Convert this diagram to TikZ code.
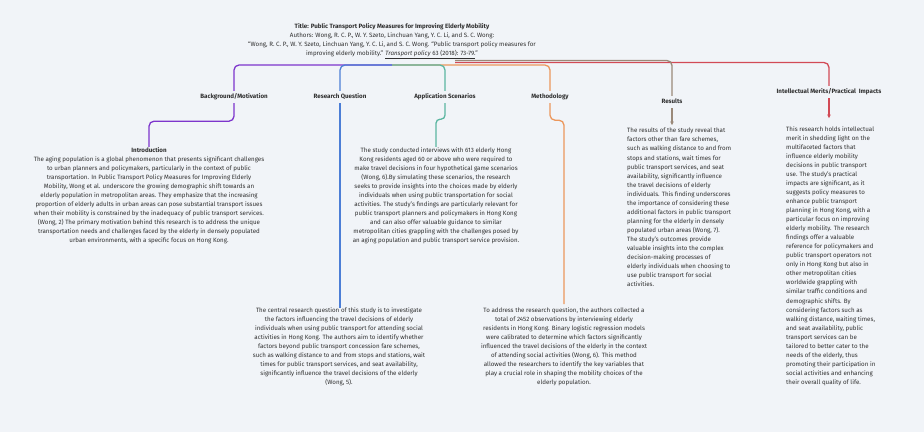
\documentclass[tikz,border=0pt]{standalone}
\usepackage{fontspec}
\setmainfont{Fira Sans}
\usetikzlibrary{arrows.meta}
\definecolor{bgc}{HTML}{F1F4F8}
\definecolor{txtc}{HTML}{303030}
\definecolor{cPurple}{HTML}{7D35CC}
\definecolor{cBlue}{HTML}{4C7ED6}
\definecolor{cGreen}{HTML}{5BB6A1}
\definecolor{cOrange}{HTML}{EC975C}
\definecolor{cBrown}{HTML}{9A8979}
\definecolor{cRed}{HTML}{D24A56}
\begin{document}
\begin{tikzpicture}[x=1pt,y=-1pt,
  lbl/.style={font=\fontsize{6.2}{9}\selectfont\bfseries,text=txtc,inner sep=3pt,text height=4.6pt,text depth=1.4pt},
  txt/.style={font=\fontsize{6.2}{9.05}\selectfont,text=txtc,inner sep=0pt},
  link/.style={line width=1.3pt,rounded corners=5pt},
  tip/.style={-{Stealth[length=3.5pt,width=3.5pt]}}]
\fill[bgc] (0,0) rectangle (924,432);

% title block
\draw (392,41.5) node[txt,align=center] (Root) {\textbf{Title: Public Transport Policy Measures for Improving Elderly Mobility}\\
Authors: Wong, R. C. P., W. Y. Szeto, Linchuan Yang, Y. C. Li, and S. C. Wong:\\
“Wong, R. C. P., W. Y. Szeto, Linchuan Yang, Y. C. Li, and S. C. Wong. “Public transport policy measures for\\
improving elderly mobility.” \underline{\textit{Transport policy} 63 (2018): 73-79.}”};
\coordinate (Hub) at (392,65);
\coordinate (HubR) at (455,60.5);

% branch labels
\draw (234,97) node[lbl] (Bg) {Background/Motivation};
\draw (340,97) node[lbl] (RQ) {Research Question};
\draw (445,97) node[lbl] (App) {Application Scenarios};
\draw (550,97) node[lbl] (Meth) {Methodology};
\draw (672,102) node[lbl] (Res) {Results};
\draw (829,92) node[lbl] (Imp) {Intellectual Merits/Practical~ Impacts};

% text blocks
\draw (149,195.5) node[txt,align=center] (Intro) {\textbf{Introduction}\\
The aging population is a global phenomenon that presents significant challenges\\
to urban planners and policymakers, particularly in the context of public\\
transportation. In Public Transport Policy Measures for Improving Elderly\\
Mobility, Wong et al. underscore the growing demographic shift towards an\\
elderly population in metropolitan areas. They emphasize that the increasing\\
proportion of elderly adults in urban areas can pose substantial transport issues\\
when their mobility is constrained by the inadequacy of public transport services.\\
(Wong, 2) The primary motivation behind this research is to address the unique\\
transportation needs and challenges faced by the elderly in densely populated\\
urban environments, with a specific focus on Hong Kong.};
\draw (339,347) node[txt,align=center] (RQTxt) {The central research question of this study is to investigate\\
the factors influencing the travel decisions of elderly\\
individuals when using public transport for attending social\\
activities in Hong Kong. The authors aim to identify whether\\
factors beyond public transport concession fare schemes,\\
such as walking distance to and from stops and stations, wait\\
times for public transport services, and seat availability,\\
significantly influence the travel decisions of the elderly\\
(Wong, 5).};
\draw (436,195.5) node[txt,align=center] (AppTxt) {The study conducted interviews with 613 elderly Hong\\
Kong residents aged 60 or above who were required to\\
make travel decisions in four hypothetical game scenarios\\
(Wong, 6).By simulating these scenarios, the research\\
seeks to provide insights into the choices made by elderly\\
individuals when using public transportation for social\\
activities. The study’s findings are particularly relevant for\\
public transport planners and policymakers in Hong Kong\\
and can also offer valuable guidance to similar\\
metropolitan cities grappling with the challenges posed by\\
an aging population and public transport service provision.};
\draw (564,346.5) node[txt,align=center] (MethTxt) {To address the research question, the authors collected a\\
total of 2452 observations by interviewing elderly\\
residents in Hong Kong. Binary logistic regression models\\
were calibrated to determine which factors significantly\\
influenced the travel decisions of the elderly in the context\\
of attending social activities (Wong, 6). This method\\
allowed the researchers to identify the key variables that\\
play a crucial role in shaping the mobility choices of the\\
elderly population.};
\draw (627,207.5) node[txt,align=left,anchor=west] (ResTxt) {The results of the study reveal that\\
factors other than fare schemes,\\
such as walking distance to and from\\
stops and stations, wait times for\\
public transport services, and seat\\
availability, significantly influence\\
the travel decisions of elderly\\
individuals. This finding underscores\\
the importance of considering these\\
additional factors in public transport\\
planning for the elderly in densely\\
populated urban areas (Wong, 7).\\
The study’s outcomes provide\\
valuable insights into the complex\\
decision-making processes of\\
elderly individuals when choosing to\\
use public transport for social\\
activities.};
\draw (786,256) node[txt,align=left,anchor=west] (ImpTxt) {This research holds intellectual\\
merit in shedding light on the\\
multifaceted factors that\\
influence elderly mobility\\
decisions in public transport\\
use. The study’s practical\\
impacts are significant, as it\\
suggests policy measures to\\
enhance public transport\\
planning in Hong Kong, with a\\
particular focus on improving\\
elderly mobility. The research\\
findings offer a valuable\\
reference for policymakers and\\
public transport operators not\\
only in Hong Kong but also in\\
other metropolitan cities\\
worldwide grappling with\\
similar traffic conditions and\\
demographic shifts. By\\
considering factors such as\\
walking distance, waiting times,\\
and seat availability, public\\
transport services can be\\
tailored to better cater to the\\
needs of the elderly, thus\\
promoting their participation in\\
social activities and enhancing\\
their overall quality of life.};

% connectors from the title
\draw[link,cRed] ([yshift=-2pt]HubR) -| (Imp.north);
\draw[link,cBrown] (HubR) -| (Res.north);
\draw[link,cPurple] (Hub) -| (Bg.north);
\draw[link,cBlue] (Hub) -| (RQ.north);
\draw[link,cOrange] (Hub) -| (Meth.north);
\draw[link,cGreen] (Hub) -| (App.north);

% connectors to the texts
\draw[link,cPurple] (Bg.south) -- ++(0,18) -| (Intro.north);
\draw[link,cBlue] (RQ.south) -- (RQ.south |- RQTxt.north);
\draw[link,cGreen,rounded corners=4pt] (App.south) -- ++(0,16) -| (AppTxt.north);
\draw[link,cOrange] (Meth.south) -- ++(0,17) -| ([yshift=3pt]MethTxt.north);
\draw[link,cBrown,tip] (Res.south) -- ([yshift=3pt]Res.south |- ResTxt.north);
\draw[link,cRed,tip] (Imp.south) -- ([yshift=8pt]Imp.south |- ImpTxt.north);
\end{tikzpicture}
\end{document}
